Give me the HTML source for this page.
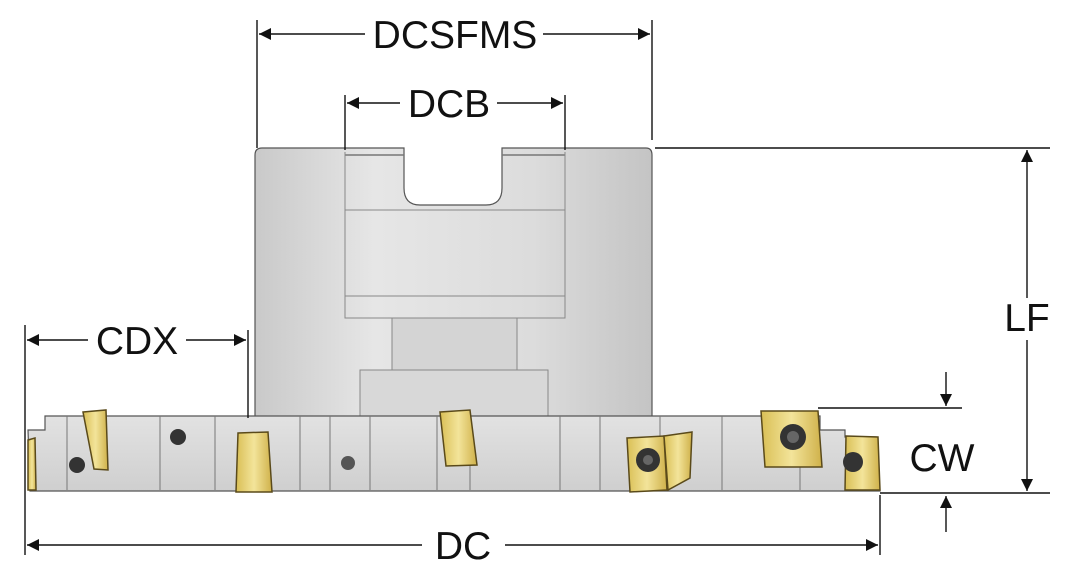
<!DOCTYPE html>
<html><head><meta charset="utf-8"><style>
html,body{margin:0;padding:0;background:#fff;}
svg{display:block;}
text{font-family:"Liberation Sans",sans-serif;font-size:39px;fill:#111;}
</style></head><body>
<svg width="1073" height="576" viewBox="0 0 1073 576" xmlns="http://www.w3.org/2000/svg">
<defs>
<linearGradient id="bd" x1="0" x2="1" y1="0" y2="0">
<stop offset="0" stop-color="#c9c9c9"/><stop offset="0.3" stop-color="#e6e6e6"/><stop offset="0.7" stop-color="#dcdcdc"/><stop offset="1" stop-color="#c4c4c4"/></linearGradient>
<linearGradient id="dk" x1="0" x2="0" y1="0" y2="1"><stop offset="0" stop-color="#e2e2e2"/><stop offset="1" stop-color="#cfcfcf"/></linearGradient>
<linearGradient id="gd" x1="0" x2="1"><stop offset="0" stop-color="#d9bf55"/><stop offset="0.5" stop-color="#f3e49a"/><stop offset="1" stop-color="#cfb14a"/></linearGradient>
<marker id="a" viewBox="0 0 10 10" refX="10" refY="5" markerWidth="17" markerHeight="12" orient="auto-start-reverse" markerUnits="userSpaceOnUse"><path d="M0,0L10,5L0,10z" fill="#111"/></marker>
</defs>
<path d="M262,148 H404 V188 Q404,205 420,205 H486 Q502,205 502,188 V148 H646 Q652,148 652,155 V418 H255 V155 Q255,148 262,148Z" fill="url(#bd)" stroke="#555" stroke-width="1.2"/>
<path d="M345,155 H404 M502,155 H565" stroke="#777" stroke-width="1.5"/>
<path d="M345,152 V296 M565,152 V296 M345,210 H565 M345,296 H565 V318 H345 Z" fill="none" stroke="#888"/>
<rect x="392" y="318" width="125" height="52" fill="#d4d4d4" stroke="#888"/>
<rect x="360" y="370" width="188" height="120" fill="#d8d8d8" stroke="#888"/>
<path d="M45,416 H820 V430 H845 V437 H876 L880,491 H30 L28,430 H45Z" fill="url(#dk)" stroke="#555" stroke-width="1.2"/>
<g stroke="#777" stroke-width="1">
<path d="M67,416V490M160,416V490M215,416V490M300,416V490M330,416V490M370,416V490M437,416V490M470,416V490M560,416V490M600,416V490M660,416V490M722,416V490M800,416V490"/>
</g>
<circle cx="178" cy="437" r="8" fill="#333"/><circle cx="77" cy="465" r="8" fill="#333"/><circle cx="348" cy="463" r="7" fill="#555"/>
<g stroke="#5a4a1a" stroke-width="1.5" fill="url(#gd)">
<path d="M83,412 L106,410 L108,470 L94,469 Z"/>
<path d="M238,433 L268,432 L272,492 L236,492 Z"/>
<path d="M440,412 L470,410 L477,465 L446,466 Z"/>
<path d="M627,438 L664,436 L667,490 L630,492 Z"/>
<path d="M664,436 L692,432 L690,478 L668,490 Z"/>
<path d="M761,411 L818,411 L822,467 L765,467 Z"/>
<path d="M846,436 L878,437 L880,490 L845,490 Z"/>
<path d="M28,440 L35,438 L36,490 L28,490 Z"/>
</g>
<circle cx="648" cy="460" r="12" fill="#333"/><circle cx="793" cy="437" r="13" fill="#333"/><circle cx="853" cy="462" r="10" fill="#333"/>
<circle cx="648" cy="460" r="5" fill="#666"/><circle cx="793" cy="437" r="6" fill="#666"/>
<g stroke="#111" stroke-width="1.4" fill="none">
<path d="M257,20V148M652,20V140M345,95V150M565,95V150"/>
<path d="M655,148H1050M880,493H1050M818,408H962M25,325V555M248,330V418M880,495V555"/>
<path d="M259,34H365" marker-start="url(#a)"/><path d="M543,34H650" marker-end="url(#a)"/>
<path d="M347,103H400" marker-start="url(#a)"/><path d="M497,103H563" marker-end="url(#a)"/>
<path d="M1027,150V298" marker-start="url(#a)"/><path d="M1027,340V491" marker-end="url(#a)"/>
<path d="M946,372V406" marker-end="url(#a)"/><path d="M946,532V496" marker-end="url(#a)"/>
<path d="M27,340H88" marker-start="url(#a)"/><path d="M186,340H246" marker-end="url(#a)"/>
<path d="M27,545H422" marker-start="url(#a)"/><path d="M505,545H878" marker-end="url(#a)"/>
</g>
<text x="455" y="48" text-anchor="middle">DCSFMS</text>
<text x="449" y="117" text-anchor="middle">DCB</text>
<text x="1027" y="331" text-anchor="middle">LF</text>
<text x="942" y="471" text-anchor="middle">CW</text>
<text x="137" y="354" text-anchor="middle">CDX</text>
<text x="463" y="559" text-anchor="middle">DC</text>
</svg>
</body></html>
